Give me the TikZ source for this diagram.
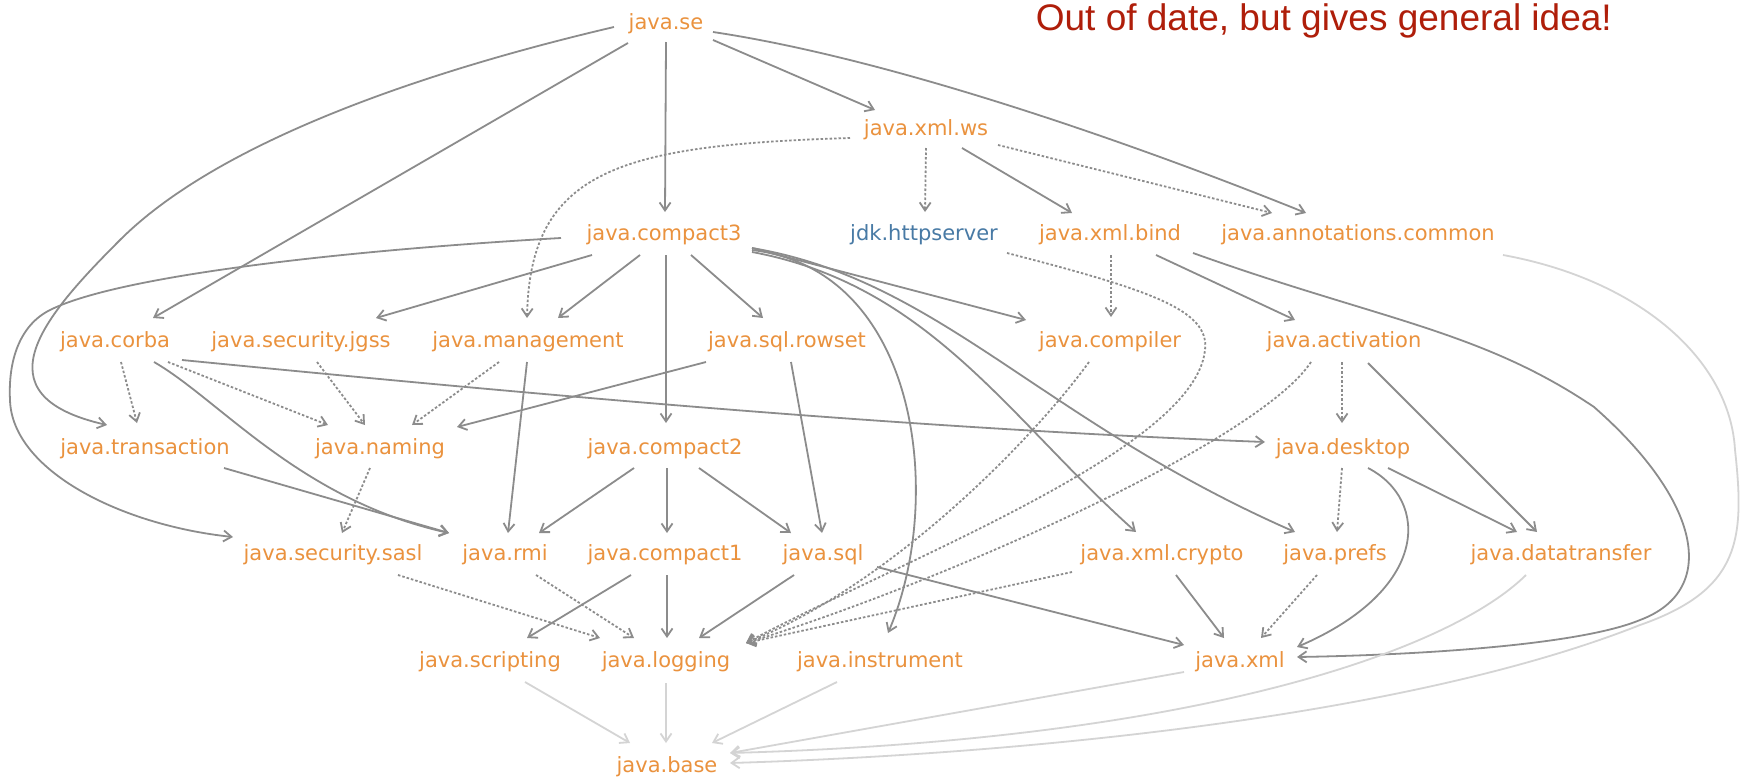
\documentclass[tikz,border=0pt]{standalone}
\usepackage{fontspec}
\usetikzlibrary{arrows.meta}
\newfontfamily\labelfont{DejaVu Sans}
\newfontfamily\notefont{Liberation Sans}
\definecolor{modorange}{RGB}{234,146,62}
\definecolor{modblue}{RGB}{72,122,165}
\definecolor{notered}{RGB}{175,30,10}
\definecolor{edgegray}{RGB}{140,140,140}
\definecolor{basegray}{RGB}{212,212,212}

\begin{document}
\begin{tikzpicture}[x=1pt,y=-1pt,
  mod/.style={inner sep=0pt, text height=15pt, text depth=1pt,
    font=\labelfont\fontsize{21}{24}\selectfont, text=modorange},
  jdk/.style={mod, text=modblue},
  req/.style={draw=edgegray, line width=1.8pt,
    -{Straight Barb[length=8pt,width=11pt]}},
  opt/.style={req, dash pattern=on 2.5pt off 2pt},
  low/.style={req, draw=basegray},
]
\fill[white] (0,0) rectangle (1745,777);
\path[use as bounding box] (0,0) rectangle (1745,777);

% modules
\node[mod] (se)       at (666,22)  {java.se};
\node[mod] (xmlws)    at (926,128) {java.xml.ws};
\node[mod] (cthree)   at (664,233) {java.compact3};
\node[jdk] (http)     at (924,233) {jdk.httpserver};
\node[mod] (bind)     at (1110,233) {java.xml.bind};
\node[mod] (annot)    at (1358,233) {java.annotations.common};
\node[mod] (corba)    at (115,340) {java.corba};
\node[mod] (jgss)     at (301,340) {java.security.jgss};
\node[mod] (mgmt)     at (528,340) {java.management};
\node[mod] (rowset)   at (787,340) {java.sql.rowset};
\node[mod] (compiler) at (1110,340) {java.compiler};
\node[mod] (activ)    at (1344,340) {java.activation};
\node[mod] (trans)    at (145,447) {java.transaction};
\node[mod] (naming)   at (380,447) {java.naming};
\node[mod] (ctwo)     at (665,447) {java.compact2};
\node[mod] (desktop)  at (1343,447) {java.desktop};
\node[mod] (sasl)     at (333,553) {java.security.sasl};
\node[mod] (rmi)      at (505,553) {java.rmi};
\node[mod] (cone)     at (665,553) {java.compact1};
\node[mod] (sqln)     at (823,553) {java.sql};
\node[mod] (crypto)   at (1162,553) {java.xml.crypto};
\node[mod] (prefs)    at (1335,553) {java.prefs};
\node[mod] (dtx)      at (1561,553) {java.datatransfer};
\node[mod] (script)   at (490,660) {java.scripting};
\node[mod] (logging)  at (666,660) {java.logging};
\node[mod] (instr)    at (880,660) {java.instrument};
\node[mod] (xml)      at (1240,660) {java.xml};
\node[mod] (basen)    at (667,765) {java.base};

\node[anchor=base east, inner sep=0pt, text=notered,
  font=\notefont\fontsize{37}{41}\selectfont] (note) at (1612,30)
  {Out of date, but gives general idea!};

% java.se
\draw[req] ([shift={(0,20)}]se.center) -- ([shift={(1,-21)}]cthree.center);
\draw[req] ([shift={(47,18)}]se.center) -- ([shift={(-51,-18)}]xmlws.center);
\draw[req] ([shift={(47,10)}]se.center) .. controls (900,60) and (1150,150) .. ([shift={(-52,-20)}]annot.center);
\draw[req] ([shift={(-38,21)}]se.center) -- ([shift={(38,-22)}]corba.center);
\draw[req] ([shift={(-52,5)}]se.center) .. controls (430,70) and (220,140) .. (120,240)
  .. controls (45,315) and (-25,395) .. ([shift={(-38,-22)}]trans.center);

% java.xml.ws
\draw[opt] ([shift={(0,20)}]xmlws.center) -- ([shift={(1,-21)}]http.center);
\draw[req] ([shift={(36,20)}]xmlws.center) -- ([shift={(-38,-20)}]bind.center);
\draw[opt] ([shift={(72,17)}]xmlws.center) -- ([shift={(-86,-20)}]annot.center);
\draw[opt] ([shift={(-76,10)}]xmlws.center) .. controls (620,145) and (530,170) .. ([shift={(-1,-22)}]mgmt.center);

% java.compact3
\draw[req] ([shift={(-103,5)}]cthree.center) .. controls (350,250) and (120,275) .. (50,310)
  .. controls (20,325) and (8,360) .. (10,400)
  .. controls (12,470) and (120,525) .. ([shift={(-100,-16)}]sasl.center);
\draw[req] ([shift={(-72,22)}]cthree.center) -- ([shift={(75,-22)}]jgss.center);
\draw[req] ([shift={(-24,22)}]cthree.center) -- ([shift={(30,-22)}]mgmt.center);
\draw[req] ([shift={(2,22)}]cthree.center) -- ([shift={(1,-24)}]ctwo.center);
\draw[req] ([shift={(27,22)}]cthree.center) -- ([shift={(-24,-22)}]rowset.center);
\draw[req] ([shift={(88,15)}]cthree.center) -- ([shift={(-84,-20)}]compiler.center);
\draw[req] ([shift={(88,17)}]cthree.center) .. controls (920,270) and (945,500) .. ([shift={(8,-27)}]instr.center);
\draw[req] ([shift={(88,19)}]cthree.center) .. controls (930,285) and (1010,420) .. ([shift={(-26,-21)}]crypto.center);
\draw[req] ([shift={(88,15)}]cthree.center) .. controls (940,280) and (1040,420) .. ([shift={(-40,-21)}]prefs.center);

% jdk.httpserver
\draw[opt] ([shift={(83,20)}]http.center) .. controls (1150,290) and (1210,310) .. (1205,350)
  .. controls (1195,450) and (900,560) .. ([shift={(80,-17)}]logging.center);

% java.xml.bind
\draw[opt] ([shift={(1,22)}]bind.center) -- ([shift={(1,-23)}]compiler.center);
\draw[req] ([shift={(46,22)}]bind.center) -- ([shift={(-49,-20)}]activ.center);
\draw[req] ([shift={(83,20)}]bind.center) .. controls (1380,320) and (1480,330) .. (1594,407)
  .. controls (1700,500) and (1720,590) .. (1640,620)
  .. controls (1580,645) and (1420,655) .. ([shift={(57,-3)}]xml.center);

% java.annotations.common
\draw[low] ([shift={(145,22)}]annot.center) .. controls (1640,280) and (1730,360) .. (1735,450)
  .. controls (1745,540) and (1740,590) .. (1640,625)
  .. controls (1400,720) and (1000,755) .. ([shift={(63,-2)}]basen.center);

% java.corba
\draw[opt] ([shift={(6,22)}]corba.center) -- ([shift={(-8,-24)}]trans.center);
\draw[opt] ([shift={(53,22)}]corba.center) -- ([shift={(-52,-22)}]naming.center);
\draw[req] ([shift={(39,22)}]corba.center) .. controls (220,400) and (300,500) .. ([shift={(-56,-20)}]rmi.center);
\draw[req] ([shift={(67,20)}]corba.center) .. controls (540,395) and (900,428) .. ([shift={(-78,-5)}]desktop.center);

% java.security.jgss, java.management, java.sql.rowset
\draw[opt] ([shift={(16,22)}]jgss.center) -- ([shift={(-15,-22)}]naming.center);
\draw[opt] ([shift={(-29,22)}]mgmt.center) -- ([shift={(32,-22)}]naming.center);
\draw[req] ([shift={(-1,22)}]mgmt.center) -- ([shift={(3,-20)}]rmi.center);
\draw[req] ([shift={(-81,22)}]rowset.center) -- ([shift={(77,-20)}]naming.center);
\draw[req] ([shift={(4,22)}]rowset.center) -- ([shift={(-1,-20)}]sqln.center);

% java.compiler, java.activation
\draw[opt] ([shift={(-21,22)}]compiler.center) .. controls (1040,430) and (900,580) .. ([shift={(80,-17)}]logging.center);
\draw[opt] ([shift={(-33,22)}]activ.center) .. controls (1260,440) and (950,580) .. ([shift={(80,-17)}]logging.center);
\draw[opt] ([shift={(-2,22)}]activ.center) -- ([shift={(-1,-24)}]desktop.center);
\draw[req] ([shift={(24,23)}]activ.center) -- ([shift={(-24,-21)}]dtx.center);

% java.transaction, java.naming, java.compact2, java.desktop
\draw[req] ([shift={(79,21)}]trans.center) -- ([shift={(-56,-20)}]rmi.center);
\draw[opt] ([shift={(-10,21)}]naming.center) -- ([shift={(9,-20)}]sasl.center);
\draw[req] ([shift={(-31,21)}]ctwo.center) -- ([shift={(34,-20)}]rmi.center);
\draw[req] ([shift={(2,21)}]ctwo.center) -- ([shift={(2,-20)}]cone.center);
\draw[req] ([shift={(34,21)}]ctwo.center) -- ([shift={(-32,-20)}]sqln.center);
\draw[opt] ([shift={(-1,21)}]desktop.center) -- ([shift={(2,-21)}]prefs.center);
\draw[req] ([shift={(45,21)}]desktop.center) -- ([shift={(-44,-21)}]dtx.center);
\draw[req] ([shift={(25,21)}]desktop.center) .. controls (1430,500) and (1430,590) .. ([shift={(57,-13)}]xml.center);

% fifth row
\draw[opt] ([shift={(65,22)}]sasl.center) -- ([shift={(-66,-22)}]logging.center);
\draw[opt] ([shift={(31,22)}]rmi.center) -- ([shift={(-32,-22)}]logging.center);
\draw[req] ([shift={(-34,22)}]cone.center) -- ([shift={(37,-22)}]script.center);
\draw[req] ([shift={(2,22)}]cone.center) -- ([shift={(1,-22)}]logging.center);
\draw[req] ([shift={(-29,22)}]sqln.center) -- ([shift={(33,-22)}]logging.center);
\draw[req] ([shift={(54,14)}]sqln.center) -- ([shift={(-56,-15)}]xml.center);
\draw[opt] ([shift={(-90,19)}]crypto.center) -- ([shift={(80,-17)}]logging.center);
\draw[req] ([shift={(14,22)}]crypto.center) -- ([shift={(-16,-22)}]xml.center);
\draw[opt] ([shift={(-18,22)}]prefs.center) -- ([shift={(21,-22)}]xml.center);
\draw[low] ([shift={(-35,22)}]dtx.center) .. controls (1450,650) and (1200,740) .. ([shift={(63,-12)}]basen.center);

% everything ends in java.base
\draw[low] ([shift={(35,22)}]script.center) -- ([shift={(-37,-22)}]basen.center);
\draw[low] ([shift={(0,23)}]logging.center) -- ([shift={(-1,-22)}]basen.center);
\draw[low] ([shift={(-43,22)}]instr.center) -- ([shift={(45,-22)}]basen.center);
\draw[low] ([shift={(-56,12)}]xml.center) -- ([shift={(63,-12)}]basen.center);
\end{tikzpicture}
\end{document}
